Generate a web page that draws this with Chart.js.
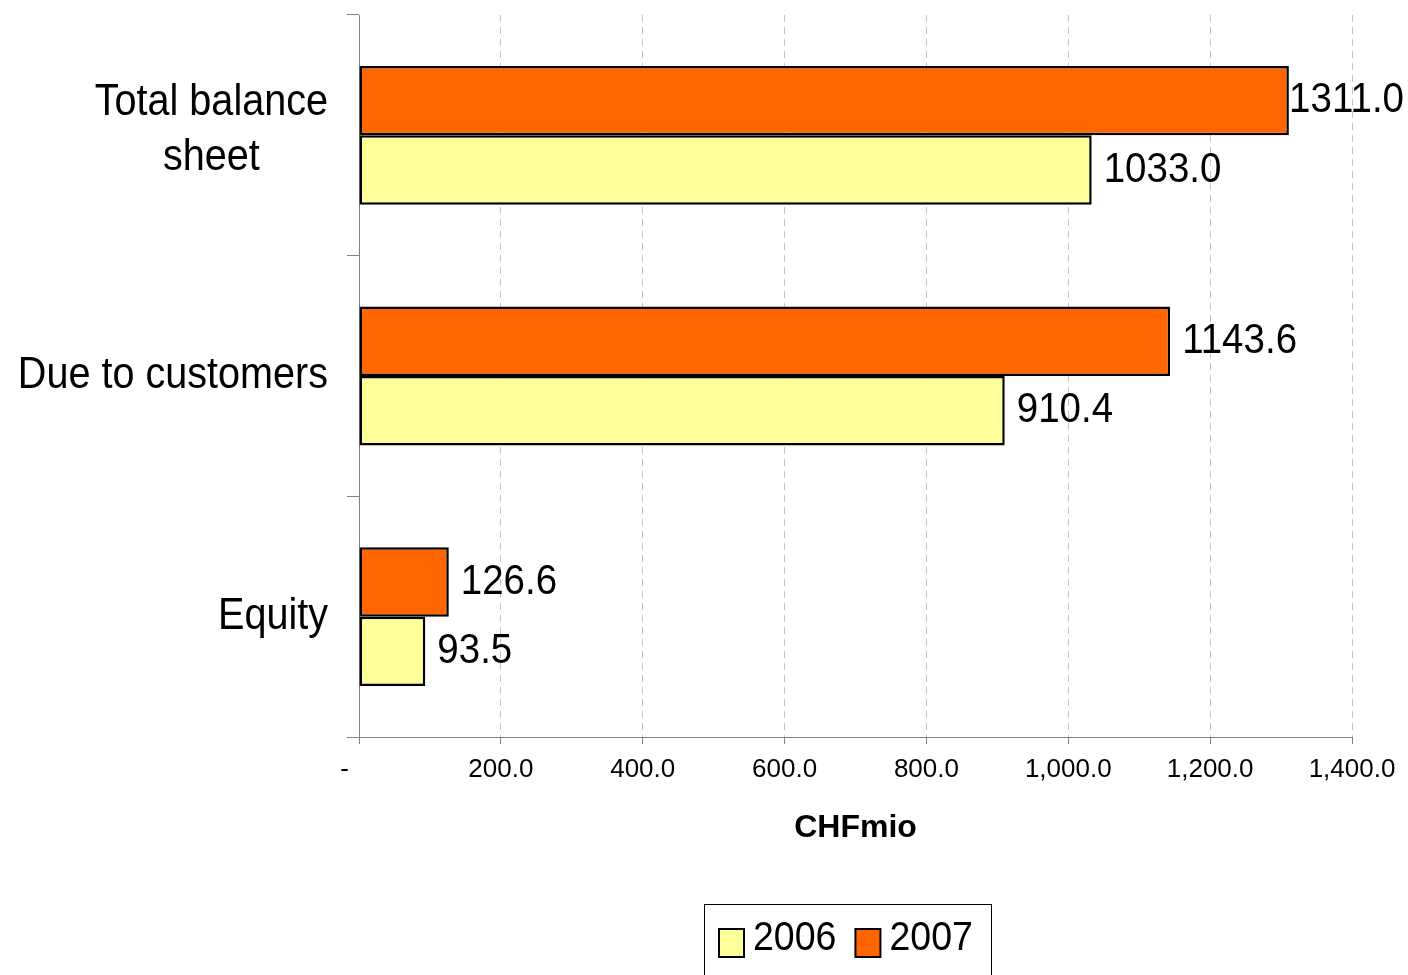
<!DOCTYPE html>
<html>
<head>
<meta charset="utf-8">
<script src="https://cdn.jsdelivr.net/npm/chart.js@4.4.1/dist/chart.umd.min.js"></script>
<style>
  html, body { margin: 0; padding: 0; background: #ffffff; }
  #wrap { width: 1408px; height: 975px; position: relative; overflow: hidden; }
  canvas { display: block; }
</style>
</head>
<body>
<div id="wrap"><canvas id="chart" width="1408" height="975"></canvas></div>
<script>
// Balance sheet key figures, CHF millions
const categories = [["Total balance", "sheet"], ["Due to customers"], ["Equity"]];
const seriesNames = ["2006", "2007"];
const values2006 = [1033.0, 910.4, 93.5];
const values2007 = [1311.0, 1143.6, 126.6];
const axisMin = 0;
const axisMax = 1400;
const axisStep = 200;
const axisTitle = "CHFmio";

const FONT = '"Liberation Sans", Arial, Helvetica, sans-serif';
const COLOR_2006 = "#FFFF99";
const COLOR_2007 = "#FF6600";
const V_STRETCH = 1.1;

function stretchedText(ctx, text, x, y, align) {
  ctx.save();
  ctx.translate(x, y);
  ctx.scale(1, V_STRETCH);
  ctx.textAlign = align;
  ctx.textBaseline = "middle";
  ctx.fillText(text, 0, 0);
  ctx.restore();
}

function formatTick(v) {
  if (v === 0) return "-    ";
  return v.toLocaleString("en-US", { minimumFractionDigits: 1, maximumFractionDigits: 1 });
}

// Category names to the left of the value axis, multi-line names centred as a block
const categoryNames = {
  id: "categoryNames",
  afterDraw(chart) {
    const ctx = chart.ctx;
    const yScale = chart.scales.y;
    ctx.save();
    ctx.font = "39.6px " + FONT;
    ctx.fillStyle = "#000000";
    const right = yScale.right - 31;
    const lineGap = 55;
    categories.forEach((lines, i) => {
      const cy = yScale.getPixelForValue(i);
      const maxW = Math.max(...lines.map(l => ctx.measureText(l).width));
      const shift = lines.length > 1 ? -5 : 0;
      const y0 = cy - (lines.length - 1) * lineGap / 2 + shift;
      lines.forEach((l, j) => {
        if (lines.length > 1) {
          stretchedText(ctx, l, right - maxW / 2, y0 + j * lineGap, "center");
        } else {
          stretchedText(ctx, l, right, y0, "right");
        }
      });
    });
    ctx.restore();
  }
};

// Value labels at the end of each bar
const barValues = {
  id: "barValues",
  afterDatasetsDraw(chart) {
    const ctx = chart.ctx;
    ctx.save();
    ctx.font = "38.5px " + FONT;
    ctx.fillStyle = "#000000";
    chart.data.datasets.forEach((ds, di) => {
      const meta = chart.getDatasetMeta(di);
      meta.data.forEach((bar, i) => {
        const text = ds.data[i].toFixed(1);
        const w = ctx.measureText(text).width;
        let x = bar.x + 12;
        if (x + w > chart.width - 4) x = chart.width - 4 - w;
        stretchedText(ctx, text, x, bar.y, "left");
      });
    });
    ctx.restore();
  }
};

// Boxed legend below the axis title, 2006 first
const boxLegend = {
  id: "boxLegend",
  afterDraw(chart) {
    const ctx = chart.ctx;
    const box = { left: 704, top: 904, width: 287, height: 90 };
    ctx.save();
    ctx.strokeStyle = "#000000";
    ctx.lineWidth = 1;
    ctx.strokeRect(box.left + 0.5, box.top + 0.5, box.width, box.height);
    ctx.font = "37.5px " + FONT;
    ctx.fillStyle = "#000000";
    const order = [1, 0];
    let x = box.left + 15;
    const cy = box.top + 38;
    order.forEach(di => {
      const ds = chart.data.datasets[di];
      ctx.fillStyle = ds.backgroundColor;
      ctx.fillRect(x, cy - 13, 25, 28);
      ctx.strokeStyle = "#000000";
      ctx.lineWidth = 2;
      ctx.strokeRect(x, cy - 13, 25, 28);
      ctx.fillStyle = "#000000";
      stretchedText(ctx, ds.label, x + 34, cy - 3, "left");
      x += 34 + ctx.measureText(ds.label).width + 19;
    });
    ctx.restore();
  }
};

const ticksList = [];
for (let v = axisMin; v <= axisMax; v += axisStep) ticksList.push(v);

new Chart(document.getElementById("chart"), {
  type: "bar",
  data: {
    labels: categories,
    datasets: [
      {
        label: seriesNames[1],
        data: values2007,
        backgroundColor: COLOR_2007,
        borderColor: "#000000",
        borderWidth: 2.5,
        borderSkipped: false,
        categoryPercentage: 0.577,
        barPercentage: 1.0
      },
      {
        label: seriesNames[0],
        data: values2006,
        backgroundColor: COLOR_2006,
        borderColor: "#000000",
        borderWidth: 2.5,
        borderSkipped: false,
        categoryPercentage: 0.577,
        barPercentage: 1.0
      }
    ]
  },
  options: {
    indexAxis: "y",
    responsive: false,
    devicePixelRatio: 1,
    animation: false,
    layout: { padding: { top: 15, right: 56, bottom: 126, left: 0 } },
    plugins: {
      legend: { display: false },
      tooltip: { enabled: false }
    },
    scales: {
      x: {
        type: "linear",
        position: "bottom",
        min: axisMin,
        max: axisMax,
        afterBuildTicks(scale) {
          scale.ticks = ticksList.map(v => ({ value: v }));
        },
        afterFit(scale) { scale.height = 112; },
        grid: {
          color: ctx => (ctx.index === 0 ? "rgba(0,0,0,0)" : "#c4c4c4"),
          lineWidth: 1,
          drawTicks: true,
          tickLength: 7,
          tickColor: "#808080",
          tickWidth: 1
        },
        border: { display: true, color: "#808080", width: 1, dash: [7, 5] },
        ticks: {
          color: "#000000",
          font: { family: FONT, size: 26 },
          padding: 10,
          maxRotation: 0,
          autoSkip: false,
          callback: v => formatTick(v)
        },
        title: {
          display: true,
          text: axisTitle,
          color: "#000000",
          font: { family: FONT, size: 32, weight: "bold" },
          padding: { top: 0, bottom: 2 }
        }
      },
      y: {
        type: "category",
        position: "left",
        afterFit(scale) { scale.width = 359; },
        grid: {
          drawOnChartArea: false,
          drawTicks: true,
          tickLength: 12,
          color: "#808080",
          tickColor: "#808080"
        },
        border: { display: true, color: "#808080", width: 1 },
        ticks: { display: false }
      }
    }
  },
  plugins: [barValues, categoryNames, boxLegend]
});
</script>
</body>
</html>
